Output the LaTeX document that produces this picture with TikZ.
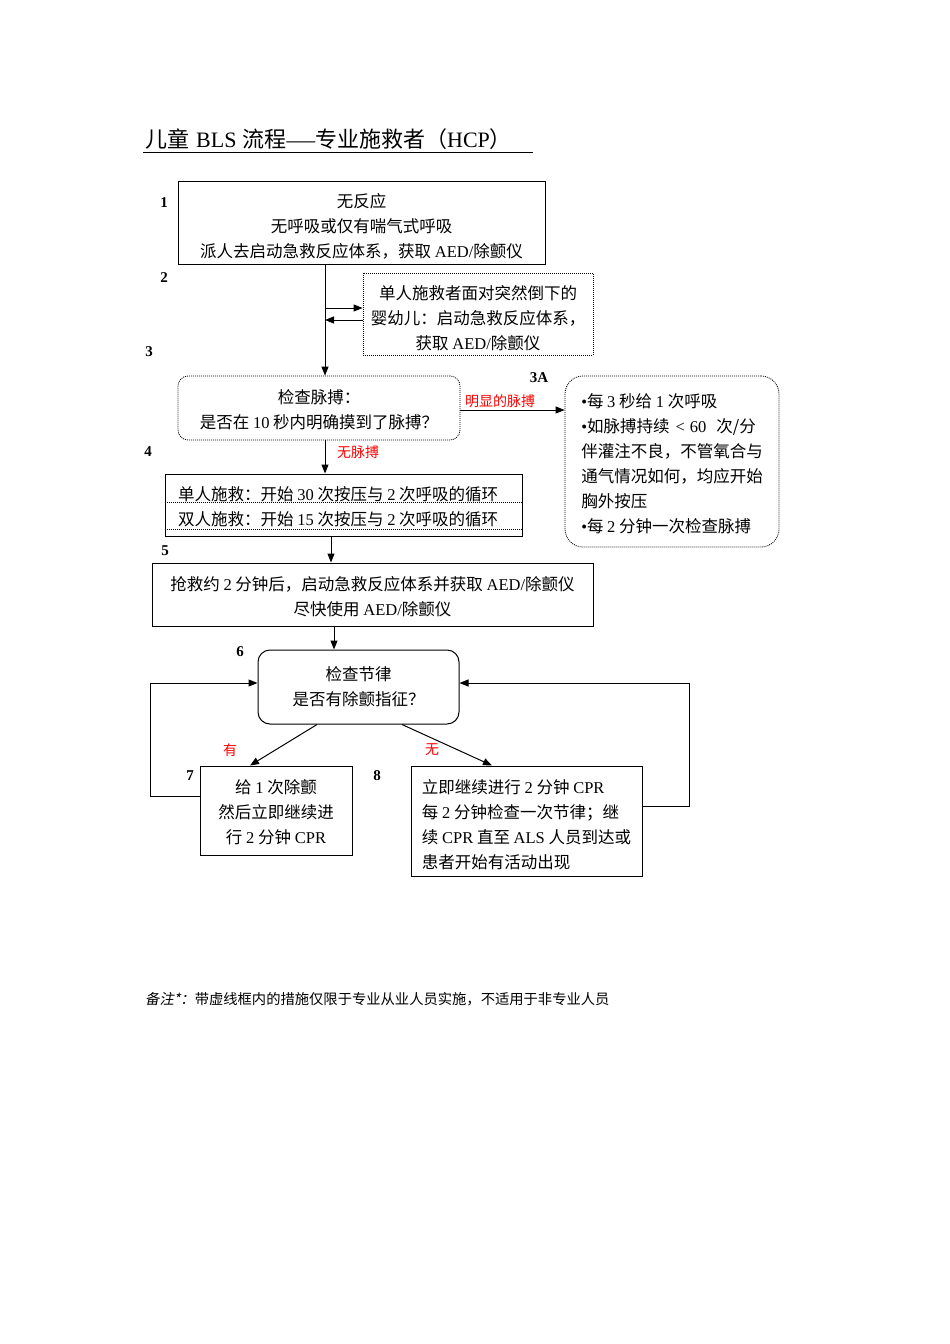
\documentclass[tikz,border=0pt]{standalone}
\usepackage{fontspec}
\setmainfont{Noto Sans CJK SC}
\newfontfamily\tmfont{Liberation Serif}
\newfontfamily\slcjk[FakeSlant=0.2]{Noto Sans CJK SC}
\newcommand\EN[1]{{\tmfont #1}}
\newcommand\dropby[1]{\rule{0pt}{#1}}
\usetikzlibrary{arrows.meta,calc}
\begin{document}
\begin{tikzpicture}[x=1pt,y=-1pt,
  txt/.style={font=\fontsize{16.5}{25}\selectfont, inner sep=0pt},
  box/.style={draw, line width=1pt, inner sep=0pt, align=center, font=\fontsize{16.5}{25}\selectfont},
  dotbox/.style={box, dash pattern=on 1pt off 1pt, line width=0.8pt},
  dotline/.style={dash pattern=on 1pt off 1pt, line width=0.8pt},
  arr/.style={line width=1pt, -{Triangle[length=9pt,width=7pt]}},
  num/.style={font=\fontsize{15}{15}\selectfont\tmfont\bfseries, inner sep=0pt},
  redlab/.style={font=\fontsize{14}{14}\selectfont, text=red, inner sep=0pt},
]
\useasboundingbox (0,0) rectangle (950,1344);

% title
\node[anchor=base west, inner sep=0pt, font=\fontsize{22}{22}\selectfont] (title) at (145,147) {儿童\hspace{7pt}\EN{BLS}\hspace{6pt}流程\scalebox{1.3}[1]{\EN{—}}专业施救者（\EN{HCP}）};
\draw[line width=1pt] ($(title.base west)+(-2,5)$) -- ($(title.base west)+(388,5)$);

% boxes
\node[box, minimum width=367, minimum height=83] (b1) at (361.5,222.5) {\dropby{22pt}无反应\\无呼吸或仅有喘气式呼吸\\派人去启动急救反应体系，获取 \EN{AED/}除颤仪};
\node[dotbox, minimum width=230, minimum height=82] (b2) at (478,314) {\dropby{22pt}单人施救者面对突然倒下的\\婴幼儿：启动急救反应体系，\\获取 \EN{AED/}除颤仪};
\node[dotbox, rounded corners=10, minimum width=282, minimum height=64] (b3) at (319,408) {\dropby{18pt}检查脉搏：\\是否在 \EN{10} 秒内明确摸到了脉搏？};
\node[dotbox, rounded corners=18, align=left, minimum width=214, minimum height=171] (b3a) at (672,461.5) {\dropby{18pt}\EN{•}每 \EN{3} 秒给 \EN{1} 次呼吸\\\EN{•}如脉搏持续\hspace{6pt}\EN{<\hspace{5pt}60}\hspace{10pt}次/分\\伴灌注不良，不管氧合与\\通气情况如何，均应开始\\胸外按压\\\EN{•}每 \EN{2} 分钟一次检查脉搏};
\node[box, minimum width=357, minimum height=62] (b4) at (343.5,505) {};
\node[txt, anchor=west] (r1) at (178,494) {单人施救：开始 \EN{30} 次按压与 \EN{2} 次呼吸的循环};
\node[txt, anchor=west] (r2) at (178,519) {双人施救：开始 \EN{15} 次按压与 \EN{2} 次呼吸的循环};
\coordinate (d1) at (0,502.5);
\coordinate (d2) at (0,529);
\draw[dotline] (b4.west |- d1) -- (b4.east |- d1);
\draw[dotline] (b4.west |- d2) -- (b4.east |- d2);
\node[box, minimum width=441, minimum height=63] (b5) at (372.5,594.5) {\dropby{18pt}抢救约 \EN{2} 分钟后，启动急救反应体系并获取 \EN{AED/}除颤仪\\尽快使用 \EN{AED/}除颤仪};
\node[box, rounded corners=12, minimum width=201, minimum height=74] (b6) at (358.5,687) {检查节律\\是否有除颤指征？};
\node[box, minimum width=152, minimum height=89] (b7) at (276,810.5) {\dropby{18pt}给 \EN{1} 次除颤\\然后立即继续进\\行 \EN{2} 分钟 \EN{CPR}};
\node[box, align=left, minimum width=231, minimum height=110] (b8) at (526.5,821) {\dropby{22pt}立即继续进行 \EN{2} 分钟 \EN{CPR}\\每 \EN{2} 分钟检查一次节律；继\\续 \EN{CPR} 直至 \EN{ALS} 人员到达或\\患者开始有活动出现};

% step numbers
\node[num] (n1) at (164,203) {1};
\node[num] (n2) at (164,278) {2};
\node[num] (n3) at (149,352) {3};
\node[num] (n3a) at (539,378) {3A};
\node[num] (n4) at (148,452) {4};
\node[num] (n5) at (165,551) {5};
\node[num] (n6) at (240,652) {6};
\node[num] (n7) at (190,776) {7};
\node[num] (n8) at (377,776) {8};

% connectors
\coordinate (m1) at (325,0);
\draw[arr] (b1.south -| m1) -- (b3.north -| m1);
\coordinate (j1) at (325,308);
\coordinate (j2) at (325,320);
\draw[arr] (j1) -- (b2.west |- j1);
\draw[arr] (b2.west |- j2) -- (j2);
\coordinate (h1) at (0,410);
\draw[arr] (b3.east |- h1) -- (b3a.west |- h1);
\node[redlab] (l1) at (500,401) {明显的脉搏};
\draw[arr] (b3.south -| m1) -- (b4.north -| m1);
\node[redlab] (l2) at (358,452) {无脉搏};
\coordinate (m2) at (331,0);
\draw[arr] (b4.south -| m2) -- (b5.north -| m2);
\coordinate (m3) at (334,0);
\draw[arr] (b5.south -| m3) -- (b6.north -| m3);
\coordinate (s1) at (317,0);
\coordinate (t1) at (250,0);
\coordinate (s2) at (402,0);
\coordinate (t2) at (492,0);
\draw[arr] (b6.south -| s1) -- (b7.north -| t1);
\draw[arr] (b6.south -| s2) -- (b8.north -| t2);
\node[redlab] (l3) at (230,750) {有};
\node[redlab] (l4) at (432,750) {无};
\coordinate (k1) at (0,796);
\coordinate (k2) at (0,683);
\coordinate (k3) at (0,806);
\draw[arr] (b7.west |- k1) -- ++(-49,0) |- (b6.west |- k2);
\draw[arr] (b8.east |- k3) -- ++(47,0) |- (b6.east |- k2);

% footnote
\node[anchor=west, inner sep=0pt, font=\fontsize{14.3}{14.3}\selectfont] (note) at (145,999) {{\slcjk 备注*：}带虚线框内的措施仅限于专业从业人员实施，不适用于非专业人员};
\end{tikzpicture}
\end{document}
